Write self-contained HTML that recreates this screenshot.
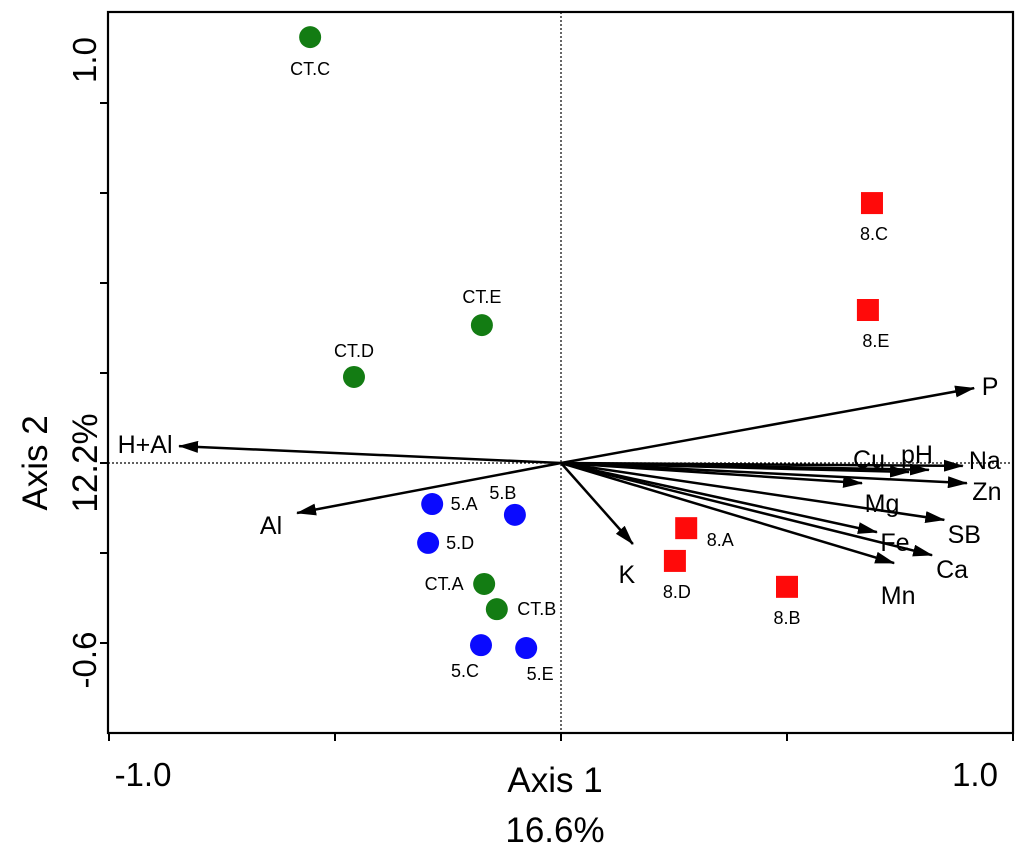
<!DOCTYPE html>
<html><head><meta charset="utf-8"><style>
body{margin:0;background:#fff;}
svg{display:block;font-family:"Liberation Sans",Arial,sans-serif;}
</style></head><body>
<svg id="chart" width="1024" height="853" viewBox="0 0 1024 853" xmlns="http://www.w3.org/2000/svg">
<defs><marker id="ah" markerWidth="20" markerHeight="12" refX="19" refY="6" orient="auto" markerUnits="userSpaceOnUse" viewBox="0 0 20 12"><path d="M0,0 L20,6 L0,12 z" fill="#000"/></marker></defs>
<g id="frame"></g>
<g id="marks"></g>
</svg>
<script>
const sampleNames=["CT.C","CT.E","CT.D","CT.A","CT.B","5.A","5.B","5.D","5.C","5.E","8.C","8.E","8.A","8.D","8.B"];
const sampleX=[-0.555,-0.175,-0.458,-0.170,-0.142,-0.285,-0.102,-0.294,-0.177,-0.077,0.688,0.679,0.277,0.252,0.500];
const sampleY=[1.183,0.383,0.239,-0.336,-0.406,-0.114,-0.144,-0.222,-0.506,-0.514,0.722,0.425,-0.181,-0.272,-0.344];
const sampleGroup=["CT","CT","CT","CT","CT","5","5","5","5","5","8","8","8","8","8"];
const varNames=["P","Na","pH","Cu","Zn","Mg","SB","Fe","Ca","Mn","K","H+Al","Al"];
const varX=[0.914,0.889,0.814,0.770,0.898,0.666,0.848,0.699,0.821,0.737,0.159,-0.845,-0.584];
const varY=[0.208,-0.008,-0.019,-0.025,-0.056,-0.056,-0.158,-0.192,-0.256,-0.278,-0.225,0.047,-0.139];
const xTicks=[-1,-0.5,0,0.5,1];
const yTicks=[1,0.75,0.5,0.25,0,-0.25,-0.5];
const xTickLabels=["-1.0","1.0"];
const yTickLabels=["1.0","-0.6"];

const L=108,R=1013,T=12,B=733,CX=561,CY=463;
const sx=v=>CX+v*452;
const sy=v=>CY-v*360;
const NS="http://www.w3.org/2000/svg";
function mk(tag,attrs,parent,txt){const e=document.createElementNS(NS,tag);for(const k in attrs)e.setAttribute(k,attrs[k]);if(txt!==undefined)e.textContent=txt;parent.appendChild(e);return e;}
const frame=document.getElementById('frame'),marks=document.getElementById('marks');

let e=mk('rect',{x:L,y:T,width:R-L,height:B-T,fill:'none',stroke:'#000','stroke-width':2.2},frame);

e=mk('line',{x1:sx(0),y1:T,x2:sx(0),y2:B,stroke:'#000','stroke-width':1.2,'stroke-dasharray':'2,2'},frame);

e=mk('line',{x1:L,y1:sy(0),x2:R,y2:sy(0),stroke:'#000','stroke-width':1.2,'stroke-dasharray':'2,2'},frame);

xTicks.forEach(v=>{const t=mk('line',{x1:sx(v),y1:B,x2:sx(v),y2:B+8,stroke:'#000','stroke-width':2},frame);
});
yTicks.forEach(v=>{const t=mk('line',{x1:L-8,y1:sy(v),x2:L,y2:sy(v),stroke:'#000','stroke-width':2},frame);
});
e=mk('text',{x:143,y:786,'font-size':33,'text-anchor':'middle'},frame,xTickLabels[0]);

e=mk('text',{x:975,y:786,'font-size':33,'text-anchor':'middle'},frame,xTickLabels[1]);

e=mk('text',{x:0,y:0,'font-size':33,'text-anchor':'middle',transform:'translate(96,60) rotate(-90)'},frame,yTickLabels[0]);

e=mk('text',{x:0,y:0,'font-size':33,'text-anchor':'middle',transform:'translate(96,660) rotate(-90)'},frame,yTickLabels[1]);

e=mk('text',{x:555,y:792,'font-size':35,'text-anchor':'middle'},frame,'Axis 1');

e=mk('text',{x:555,y:842,'font-size':35,'text-anchor':'middle'},frame,'16.6%');

e=mk('text',{x:0,y:0,'font-size':35,'text-anchor':'middle',transform:'translate(47,463) rotate(-90)'},frame,'Axis 2');

e=mk('text',{x:0,y:0,'font-size':35,'text-anchor':'middle',transform:'translate(97,463) rotate(-90)'},frame,'12.2%');


const varLabelPos={"P":[16,-2],"Na":[22,-6],"pH":[-12,-16],"Cu":[-40,-13],"Zn":[20,8],"Mg":[20,20],"SB":[20,14],"Fe":[18,10],"Ca":[20,14],"Mn":[4,32],"K":[-6,30],"H+Al":[-34,-2],"Al":[-26,12]};
varNames.forEach((n,i)=>{
  const x=sx(varX[i]),y=sy(varY[i]);
  const a=mk('line',{x1:sx(0),y1:sy(0),x2:x,y2:y,stroke:'#000','stroke-width':2.5,'marker-end':'url(#ah)'},marks);
  
  
  const p=varLabelPos[n];
  const t=mk('text',{x:x+p[0],y:y+p[1]+9,'font-size':25,'text-anchor':'middle'},marks,n);
  
  
});
const colors={"CT":"#137c13","5":"#0a0aff","8":"#ff0a0a"};
const sLabelPos={"CT.C":[0,38],"CT.E":[0,-22],"CT.D":[0,-20],"CT.A":[-40,6],"CT.B":[40,6],"5.A":[32,6],"5.B":[-12,-16],"5.D":[32,6],"5.C":[-16,32],"5.E":[14,32],"8.C":[2,37],"8.E":[8,37],"8.A":[34,18],"8.D":[2,37],"8.B":[0,37]};
sampleNames.forEach((n,i)=>{
  const x=sx(sampleX[i]),y=sy(sampleY[i]),g=sampleGroup[i];
  let m;
  if(g==="8") m=mk('rect',{x:x-11,y:y-11,width:22,height:22,fill:colors[g]},marks);
  else m=mk('circle',{cx:x,cy:y,r:11,fill:colors[g]},marks);
  
  
  const p=sLabelPos[n];
  const t=mk('text',{x:x+p[0],y:y+p[1],'font-size':18,'text-anchor':'middle'},marks,n);
  
  
});
</script>
</body></html>
